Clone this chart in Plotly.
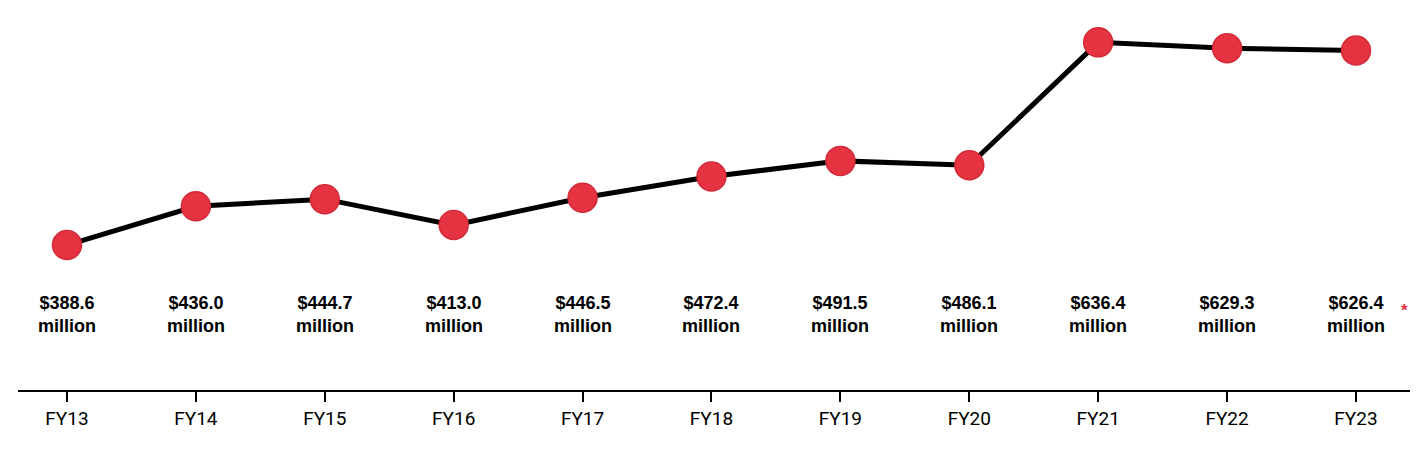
import plotly.graph_objects as go

years = ["FY13","FY14","FY15","FY16","FY17","FY18","FY19","FY20","FY21","FY22","FY23"]
values = [388.6,436.0,444.7,413.0,446.5,472.4,491.5,486.1,636.4,629.3,626.4]
labels = ["$388.6","$436.0","$444.7","$413.0","$446.5","$472.4","$491.5","$486.1","$636.4","$629.3","$626.4"]

xs = list(range(len(years)))
fig = go.Figure(go.Scatter(
    x=xs, y=values, mode="lines+markers",
    line=dict(color="black", width=5),
    marker=dict(color="#e63341", size=29, line=dict(color="#d22a38", width=1.5)),
    hoverinfo="skip"))

for i, lab in enumerate(labels):
    txt = f"<b>{lab}<br>million</b>"
    fig.add_annotation(x=i, y=0, xref="x", yref="paper", text=txt, showarrow=False,
                       yshift=52, font=dict(family="Liberation Sans, Arial, sans-serif", size=18, color="black"),
                       align="center")
fig.add_annotation(x=10, y=0, xref="x", yref="paper", text="<b>*</b>", showarrow=False,
                   xshift=49, yshift=68, font=dict(family="Liberation Sans, Arial", size=17, color="#e63341"))

fig.update_layout(
    width=1425, height=450, margin=dict(l=10, r=23, t=0, b=68),
    plot_bgcolor="white", paper_bgcolor="white", showlegend=False,
    xaxis=dict(range=[-0.38, 10.419], tickvals=xs, ticktext=years, showgrid=False, zeroline=False,
               showline=True, linecolor="black", linewidth=2, ticks="outside", ticklen=10,
               tickcolor="black", tickwidth=2,
               tickfont=dict(family="Roboto, Arial, sans-serif", size=19, color="black")),
    yaxis=dict(range=[211.4, 678.4], visible=False),
)
fig.write_html("out.html")
